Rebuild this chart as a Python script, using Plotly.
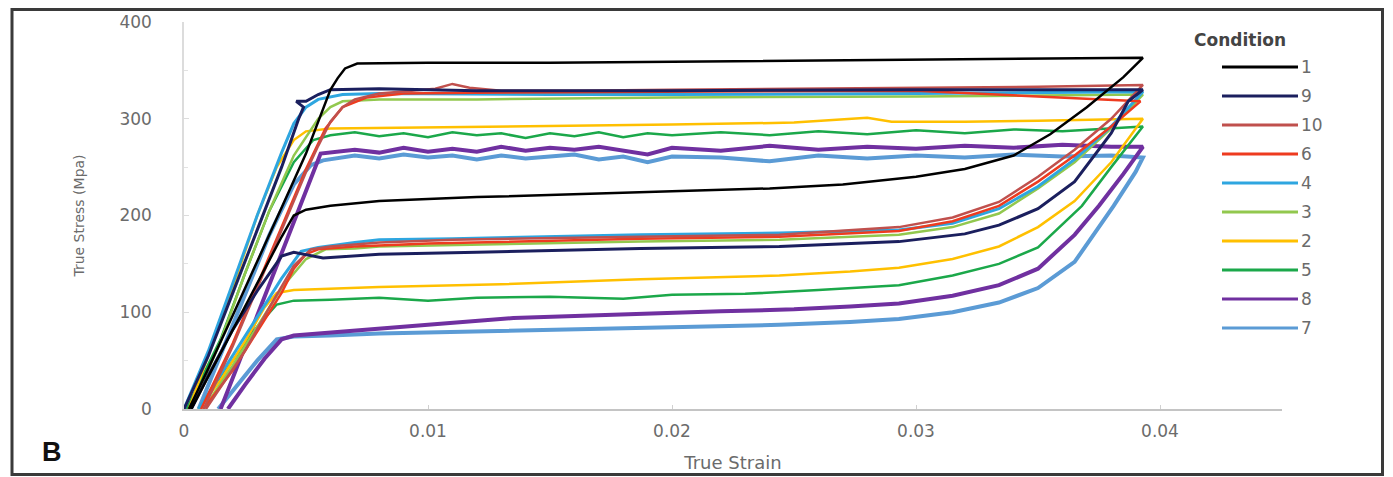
import plotly.graph_objects as go

# ---------------- data (true strain, true stress MPa) ----------------
conditions = ["1", "9", "10", "6", "4", "3", "2", "5", "8", "7"]
colors = ["#000000", "#1B1F5E", "#C0504D", "#EE3B1F", "#2EA6E0",
          "#92C84E", "#FFC000", "#1BA84A", "#7030A0", "#5B9BD5"]
widths = [2.5, 3, 2.5, 2.5, 3, 2.5, 2.5, 2.5, 4, 4]

# Condition 1
up_x_1 = [0.0002, 0.001, 0.002, 0.003, 0.004, 0.005, 0.0058, 0.006, 0.0063, 0.0066, 0.0071, 0.01, 0.015, 0.02, 0.025, 0.03, 0.035, 0.0393]
up_y_1 = [0, 42, 97, 152, 208, 264, 318, 330, 342, 352, 357, 358, 358, 359, 360, 361, 362, 363]
lo_x_1 = [0.0003, 0.001, 0.002, 0.003, 0.004, 0.0045, 0.005, 0.006, 0.008, 0.012, 0.016, 0.02, 0.024, 0.027, 0.03, 0.032, 0.034, 0.0355, 0.037, 0.0385, 0.0393]
lo_y_1 = [0, 33, 82, 130, 178, 200, 206, 210, 215, 219, 222, 225, 228, 232, 240, 248, 262, 284, 312, 343, 363]

# Condition 9
up_x_9 = [0.0, 0.001, 0.002, 0.003, 0.004, 0.0047, 0.0049, 0.0046, 0.005, 0.0055, 0.006, 0.008, 0.012, 0.02, 0.03, 0.0393]
up_y_9 = [0, 55, 120, 185, 250, 300, 312, 318, 318, 325, 330, 331, 329, 329, 330, 330]
lo_x_9 = [0.0003, 0.001, 0.002, 0.003, 0.004, 0.0045, 0.0057, 0.008, 0.012, 0.0187, 0.0244, 0.0293, 0.032, 0.0334, 0.035, 0.0365, 0.038, 0.0387, 0.0393]
lo_y_9 = [0, 35, 82, 122, 158, 162, 156, 160, 162, 166, 168, 173, 181, 190, 207, 235, 285, 318, 330]

# Condition 10
up_x_10 = [0.0008, 0.002, 0.003, 0.004, 0.005, 0.0055, 0.006, 0.0065, 0.007, 0.008, 0.009, 0.0103, 0.011, 0.0117, 0.013, 0.016, 0.02, 0.025, 0.03, 0.035, 0.0393]
up_y_10 = [0, 65, 125, 185, 245, 272, 297, 312, 320, 326, 328, 331, 336, 332, 329, 329, 330, 331, 332, 333, 335]
lo_x_10 = [0.0009, 0.0025, 0.0035, 0.0045, 0.0052, 0.006, 0.008, 0.011, 0.0187, 0.0244, 0.0293, 0.0315, 0.0334, 0.035, 0.0365, 0.038, 0.0393]
lo_y_10 = [0, 60, 105, 148, 165, 168, 172, 175, 178, 180, 188, 198, 214, 240, 268, 300, 335]

# Condition 6
up_x_6 = [0.0007, 0.002, 0.003, 0.004, 0.005, 0.0058, 0.0065, 0.0075, 0.009, 0.012, 0.02, 0.03, 0.0392]
up_y_6 = [0, 68, 128, 188, 248, 290, 312, 322, 326, 327, 328, 329, 318]
lo_x_6 = [0.0008, 0.002, 0.003, 0.004, 0.0045, 0.005, 0.0055, 0.007, 0.01, 0.015, 0.0187, 0.0244, 0.0293, 0.0315, 0.0334, 0.035, 0.0365, 0.038, 0.0392]
lo_y_6 = [0, 40, 80, 120, 145, 160, 165, 168, 171, 174, 176, 178, 184, 194, 210, 235, 262, 292, 318]

# Condition 4
up_x_4 = [0.0, 0.001, 0.002, 0.003, 0.004, 0.0045, 0.005, 0.0055, 0.0065, 0.008, 0.015, 0.02, 0.03, 0.0393]
up_y_4 = [0, 60, 130, 200, 265, 295, 312, 320, 325, 326, 325, 325, 326, 328]
lo_x_4 = [0.0006, 0.002, 0.003, 0.004, 0.0048, 0.0055, 0.007, 0.008, 0.011, 0.0187, 0.0244, 0.0293, 0.0315, 0.0334, 0.035, 0.0365, 0.038, 0.0393]
lo_y_4 = [0, 55, 95, 135, 163, 167, 172, 175, 176, 180, 182, 185, 192, 207, 230, 258, 292, 328]

# Condition 3
up_x_3 = [0.0003, 0.0015, 0.0025, 0.0035, 0.0045, 0.0055, 0.006, 0.0065, 0.008, 0.012, 0.02, 0.03, 0.0393]
up_y_3 = [0, 70, 140, 205, 262, 300, 312, 318, 320, 320, 322, 323, 325]
lo_x_3 = [0.0008, 0.002, 0.003, 0.004, 0.005, 0.0058, 0.007, 0.008, 0.012, 0.0187, 0.0244, 0.0293, 0.0315, 0.0334, 0.035, 0.0365, 0.038, 0.0393]
lo_y_3 = [0, 45, 85, 125, 155, 165, 166, 168, 170, 173, 175, 180, 188, 202, 228, 255, 290, 325]

# Condition 2
up_x_2 = [0.0002, 0.001, 0.002, 0.003, 0.0038, 0.0045, 0.005, 0.006, 0.01, 0.015, 0.02, 0.025, 0.027, 0.028, 0.029, 0.032, 0.035, 0.0393]
up_y_2 = [0, 55, 125, 200, 250, 278, 287, 290, 291, 292, 294, 296, 299, 301, 297, 297, 298, 300]
lo_x_2 = [0.0006, 0.0015, 0.0025, 0.0033, 0.0038, 0.0045, 0.006, 0.008, 0.013, 0.0187, 0.0244, 0.0273, 0.0293, 0.0315, 0.0334, 0.035, 0.0365, 0.038, 0.0393]
lo_y_2 = [0, 30, 70, 105, 120, 123, 124, 126, 129, 134, 138, 142, 146, 155, 168, 188, 215, 255, 300]

# Condition 5
up_x_5 = [0.0001, 0.0015, 0.0025, 0.0035, 0.0045, 0.0053, 0.006, 0.007, 0.008, 0.009, 0.010, 0.011, 0.012, 0.013, 0.014, 0.015, 0.016, 0.017, 0.018, 0.019, 0.02, 0.022, 0.024, 0.026, 0.028, 0.03, 0.032, 0.034, 0.036, 0.038, 0.0393]
up_y_5 = [0, 72, 140, 205, 255, 278, 283, 286, 282, 285, 281, 286, 283, 285, 280, 285, 282, 286, 281, 285, 283, 286, 283, 287, 284, 288, 285, 289, 287, 290, 292]
lo_x_5 = [0.0006, 0.002, 0.003, 0.0038, 0.0045, 0.006, 0.008, 0.01, 0.012, 0.015, 0.018, 0.02, 0.023, 0.026, 0.0293, 0.0315, 0.0334, 0.035, 0.0368, 0.038, 0.0393]
lo_y_5 = [0, 50, 85, 108, 112, 113, 115, 112, 115, 116, 114, 118, 119, 123, 128, 138, 150, 167, 210, 250, 292]

# Condition 8
up_x_8 = [0.0015, 0.0025, 0.0035, 0.0045, 0.0052, 0.0056, 0.007, 0.008, 0.009, 0.010, 0.011, 0.012, 0.013, 0.014, 0.015, 0.016, 0.017, 0.018, 0.019, 0.02, 0.022, 0.024, 0.026, 0.028, 0.03, 0.032, 0.034, 0.036, 0.038, 0.0393]
up_y_8 = [0, 65, 130, 195, 240, 264, 268, 265, 270, 266, 269, 266, 271, 267, 270, 268, 271, 267, 263, 270, 267, 272, 268, 271, 269, 272, 270, 273, 271, 271]
lo_x_8 = [0.0018, 0.0025, 0.0033, 0.004, 0.0045, 0.006, 0.008, 0.01, 0.0135, 0.016, 0.0187, 0.022, 0.025, 0.0273, 0.0293, 0.0315, 0.0334, 0.035, 0.0365, 0.0375, 0.0385, 0.0393]
lo_y_8 = [0, 25, 52, 72, 76, 79, 83, 87, 94, 96, 98, 101, 103, 106, 109, 117, 128, 145, 180, 210, 243, 271]

# Condition 7
up_x_7 = [0.0006, 0.0015, 0.0025, 0.0035, 0.0045, 0.0052, 0.0057, 0.007, 0.008, 0.009, 0.010, 0.011, 0.012, 0.013, 0.014, 0.015, 0.016, 0.017, 0.018, 0.019, 0.02, 0.022, 0.024, 0.026, 0.028, 0.03, 0.032, 0.034, 0.036, 0.038, 0.0393]
up_y_7 = [0, 55, 118, 180, 232, 252, 257, 262, 259, 263, 260, 262, 258, 262, 259, 261, 263, 258, 261, 255, 261, 260, 256, 262, 259, 262, 260, 263, 261, 262, 260]
lo_x_7 = [0.0014, 0.0022, 0.003, 0.0038, 0.0045, 0.006, 0.008, 0.01, 0.013, 0.0187, 0.0244, 0.0273, 0.0293, 0.0315, 0.0334, 0.035, 0.0365, 0.0381, 0.039, 0.0393]
lo_y_7 = [0, 25, 50, 72, 75, 76, 78, 79, 80, 84, 87, 90, 93, 100, 110, 125, 152, 210, 245, 260]

upper_x = {"1": up_x_1, "9": up_x_9, "10": up_x_10, "6": up_x_6, "4": up_x_4,
           "3": up_x_3, "2": up_x_2, "5": up_x_5, "8": up_x_8, "7": up_x_7}
upper_y = {"1": up_y_1, "9": up_y_9, "10": up_y_10, "6": up_y_6, "4": up_y_4,
           "3": up_y_3, "2": up_y_2, "5": up_y_5, "8": up_y_8, "7": up_y_7}
lower_x = {"1": lo_x_1, "9": lo_x_9, "10": lo_x_10, "6": lo_x_6, "4": lo_x_4,
           "3": lo_x_3, "2": lo_x_2, "5": lo_x_5, "8": lo_x_8, "7": lo_x_7}
lower_y = {"1": lo_y_1, "9": lo_y_9, "10": lo_y_10, "6": lo_y_6, "4": lo_y_4,
           "3": lo_y_3, "2": lo_y_2, "5": lo_y_5, "8": lo_y_8, "7": lo_y_7}

x_tickvals = [0, 0.01, 0.02, 0.03, 0.04]
x_ticktext = ["0", "0.01", "0.02", "0.03", "0.04"]
y_tickvals = [0, 100, 200, 300, 400]

# ---------------- layout geometry ----------------
# the page body has an 8px margin, so the figure is sized to end at the window edge
OFF = 8
W, H = 1393 - OFF, 477 - OFF
L, T = 184 - OFF, 22 - OFF
R = W - (1282 - OFF)
B = H - (409 - OFF)
PW, PH = W - L - R, H - T - B


def px(xp):
    """page x pixel -> paper coordinate"""
    return (xp - OFF - L) / PW


def py(yp):
    """page y pixel -> paper coordinate"""
    return (H - B - (yp - OFF)) / PH


fig = go.Figure()

# draw in reverse legend order so condition 1 sits on top
for i in reversed(range(len(conditions))):
    c = conditions[i]
    xs = list(upper_x[c]) + list(reversed(lower_x[c]))
    ys = list(upper_y[c]) + list(reversed(lower_y[c]))
    fig.add_trace(go.Scatter(
        x=xs, y=ys, mode="lines", name=c, showlegend=False,
        line=dict(color=colors[i], width=widths[i]),
    ))

tick_font = dict(family="DejaVu Sans", size=17, color="#6b6b6b")

fig.update_xaxes(
    range=[0, 0.045], tickvals=x_tickvals, ticktext=x_ticktext,
    showline=True, linecolor="#c4c4c4", linewidth=1.5,
    ticks="inside", ticklen=4, tickcolor="#d0d0d0",
    showgrid=False, zeroline=False, tickfont=tick_font,
    ticklabelstandoff=6,
    title=dict(text="True Strain", standoff=16,
               font=dict(family="DejaVu Sans", size=18, color="#6b6b6b")),
    automargin=False,
)
fig.update_yaxes(
    range=[0, 400], tickvals=y_tickvals,
    showline=True, linecolor="#dcdcdc", linewidth=1.5,
    ticks="inside", ticklen=5, tickcolor="#dcdcdc",
    minor=dict(dtick=50, ticks="inside", ticklen=4, tickcolor="#e2e2e2"),
    showgrid=False, zeroline=False, tickfont=tick_font,
    ticklabelstandoff=27,
    title=dict(text="True Stress (Mpa)", standoff=31,
               font=dict(family="DejaVu Sans", size=14, color="#6b6b6b")),
    automargin=False,
)

shapes = []
annotations = []

# outer frame
shapes.append(dict(type="rect", xref="paper", yref="paper",
                   x0=px(12), x1=px(1382.5), y0=py(474.5), y1=py(9.5),
                   line=dict(color="#3a3a3a", width=3), layer="above"))

# manual legend
annotations.append(dict(x=px(1240), y=py(40), xref="paper", yref="paper",
                        text="<b>Condition</b>", showarrow=False,
                        xanchor="center", yanchor="middle",
                        font=dict(family="DejaVu Sans", size=17, color="#444444")))
for i, c in enumerate(conditions):
    yy = 67 + 29 * i
    shapes.append(dict(type="line", xref="paper", yref="paper",
                       x0=px(1222), x1=px(1298), y0=py(yy), y1=py(yy),
                       line=dict(color=colors[i], width=3)))
    annotations.append(dict(x=px(1299), y=py(yy), xref="paper", yref="paper",
                            text=c, showarrow=False, xanchor="left", yanchor="middle",
                            font=dict(family="DejaVu Sans", size=17, color="#6b6b6b")))

# panel letter
annotations.append(dict(x=px(52), y=py(452), xref="paper", yref="paper",
                        text="<b>B</b>", showarrow=False,
                        xanchor="center", yanchor="middle",
                        font=dict(family="Liberation Sans", size=27, color="#111111")))

fig.update_layout(
    width=W, height=H,
    margin=dict(l=L, r=R, t=T, b=B, pad=0),
    paper_bgcolor="white", plot_bgcolor="white",
    shapes=shapes, annotations=annotations,
    showlegend=False,
)

fig.write_html("out.html")
